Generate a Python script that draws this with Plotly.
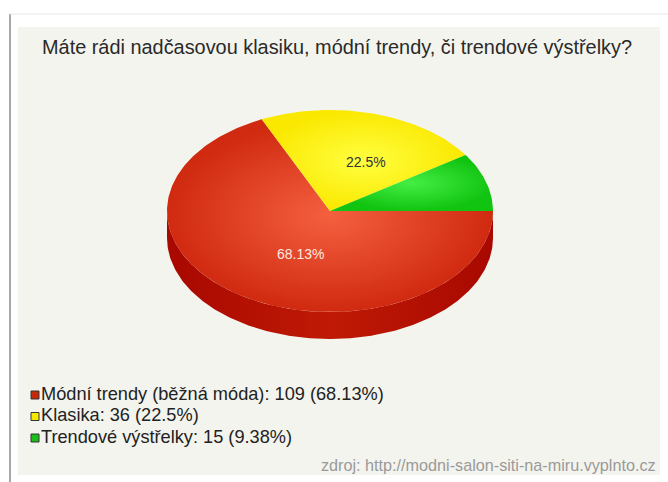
import numpy as np
import plotly.graph_objects as go
from decimal import Decimal, ROUND_HALF_UP

# Survey answers
labels = ["Módní trendy (běžná móda)", "Klasika", "Trendové výstřelky"]
counts = [109, 36, 15]
title_text = "Máte rádi nadčasovou klasiku, módní trendy, či trendové výstřelky?"
source_text = "zdroj: http://modni-salon-siti-na-miru.vyplnto.cz"

# Colours per slice: (gradient centre, gradient edge), legend swatch
top_colors = [("#f4603f", "#d02a10"), ("#ffff40", "#fae800"), ("#44ee44", "#12c412")]
swatch_colors = ["#c42a0a", "#f8e800", "#19c019"]
side_colors = ["#a80800", "#c01a06"]

W, H = 668, 482
CX, CY, RX, RY, DEPTH = 330, 211, 163, 101, 27
FONT = "Liberation Sans, Arial, sans-serif"


def pct(v, total):
    d = (Decimal(v) * 100 / Decimal(total)).quantize(Decimal("0.01"), rounding=ROUND_HALF_UP)
    s = format(d, "f").rstrip("0").rstrip(".")
    return s + "%"


total = sum(counts)
pcts = [pct(c, total) for c in counts]

fig = go.Figure()

# Visible front rim of the disc (lower half of the ellipse)
t = np.linspace(0, np.pi, 240)
rim_x = np.concatenate([CX + RX * np.cos(t), (CX + RX * np.cos(t))[::-1]])
rim_y = np.concatenate([CY + RY * np.sin(t), (CY + RY * np.sin(t) + DEPTH)[::-1]])
fig.add_trace(go.Scatter(
    x=rim_x, y=rim_y, mode="lines", fill="toself",
    line=dict(width=0, color=side_colors[0]),
    fillgradient=dict(type="horizontal",
                      colorscale=[[0, side_colors[0]], [0.5, side_colors[1]], [1, side_colors[0]]]),
    hoverinfo="skip", showlegend=False,
))

# Top face slices, clockwise from 3 o'clock
start = 0.0
mids = []
for i, c in enumerate(counts):
    sweep = 2 * np.pi * c / total
    a = np.linspace(start, start + sweep, max(int(400 * c / total), 12))
    xs = np.concatenate([[CX], CX + RX * np.cos(a), [CX]])
    ys = np.concatenate([[CY], CY + RY * np.sin(a), [CY]])
    inner, outer = top_colors[i]
    fig.add_trace(go.Scatter(
        x=xs, y=ys, mode="lines", fill="toself",
        line=dict(width=0, color=outer),
        fillgradient=dict(type="radial", colorscale=[[0, inner], [1, outer]]),
        hoverinfo="skip", showlegend=False,
    ))
    mids.append(start + sweep / 2)
    start += sweep

# Percentage labels inside the two larger slices
label_colors = ["#fbe9e2", "#333333"]
for i in range(2):
    fig.add_annotation(
        x=CX + 0.5 * RX * np.cos(mids[i]), y=CY + 0.5 * RY * np.sin(mids[i]),
        text=pcts[i], showarrow=False, xshift=14,
        font=dict(family=FONT, size=14, color=label_colors[i]),
    )

# Legend rows: swatch + text
legend_y = [395, 416.5, 438]
fig.add_trace(go.Scatter(
    x=[35] * 3, y=legend_y, mode="markers+text",
    marker=dict(symbol="square", size=8, color=swatch_colors, line=dict(color="#333", width=1)),
    text=[f"{l}: {c} ({p})" for l, c, p in zip(labels, counts, pcts)],
    textposition="middle right",
    textfont=dict(family=FONT, size=18.2, color="#222"),
    hoverinfo="skip", showlegend=False,
))

fig.add_annotation(x=40, y=47, text=title_text, showarrow=False, xanchor="left",
                   font=dict(family=FONT, size=19.9, color="#2a2a2a"))
fig.add_annotation(x=658, y=465, text=source_text, showarrow=False, xanchor="right",
                   font=dict(family=FONT, size=16.2, color="#9a9a9a"))

# Frame: beige panel, outer border lines
fig.add_shape(type="rect", x0=18, y0=27, x1=660, y1=475, layer="below",
              fillcolor="#f4f4ee", line=dict(width=0))
fig.add_shape(type="line", x0=10, y0=14, x1=10, y1=482, layer="below",
              line=dict(color="#a8a8a8", width=2))
fig.add_shape(type="line", x0=10, y0=14, x1=668, y1=14, layer="below",
              line=dict(color="#e6e6e6", width=1))

fig.update_layout(
    width=W, height=H, margin=dict(l=0, r=0, t=0, b=0),
    paper_bgcolor="white", plot_bgcolor="white",
    xaxis=dict(range=[0, W], visible=False, fixedrange=True),
    yaxis=dict(range=[H, 0], visible=False, fixedrange=True),
)
fig.write_html("out.html")
